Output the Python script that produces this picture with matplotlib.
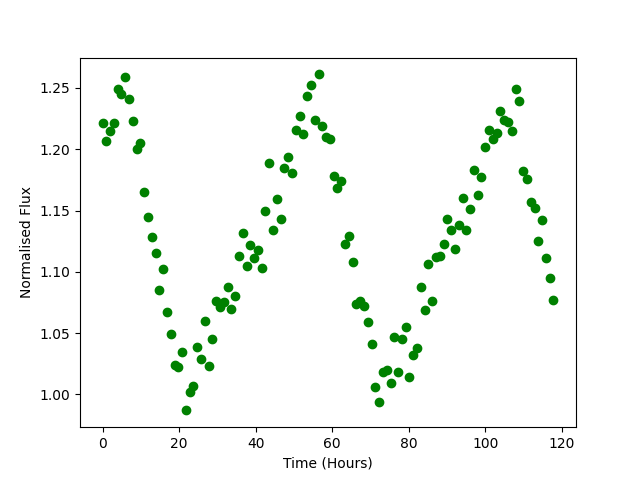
import numpy as np
import matplotlib
matplotlib.use("Agg")
import matplotlib.pyplot as plt

# Normalised flux values, sampled evenly in time
flux = [
    1.221, 1.207, 1.215, 1.221, 1.249, 1.245, 1.259, 1.241, 1.223, 1.200,
    1.205, 1.165, 1.145, 1.128, 1.115, 1.085, 1.102, 1.067, 1.049, 1.024,
    1.022, 1.035, 0.987, 1.002, 1.007, 1.039, 1.029, 1.060, 1.023, 1.045,
    1.076, 1.071, 1.075, 1.088, 1.070, 1.080, 1.113, 1.132, 1.105, 1.122,
    1.111, 1.118, 1.103, 1.150, 1.189, 1.134, 1.159, 1.143, 1.185, 1.194,
    1.181, 1.216, 1.227, 1.212, 1.243, 1.252, 1.224, 1.261, 1.219, 1.210,
    1.208, 1.178, 1.168, 1.174, 1.123, 1.129, 1.108, 1.074, 1.076, 1.072,
    1.059, 1.041, 1.006, 0.994, 1.018, 1.020, 1.009, 1.047, 1.018, 1.045,
    1.055, 1.014, 1.032, 1.038, 1.088, 1.069, 1.106, 1.076, 1.112, 1.113,
    1.123, 1.143, 1.134, 1.119, 1.138, 1.160, 1.134, 1.151, 1.183, 1.163,
    1.177, 1.202, 1.216, 1.208, 1.213, 1.231, 1.224, 1.222, 1.215, 1.249,
    1.239, 1.182, 1.176, 1.157, 1.152, 1.125, 1.142, 1.111, 1.095, 1.077,
]
cadence_hours = 0.99
time_hours = np.arange(len(flux)) * cadence_hours

fig, ax = plt.subplots(figsize=(6.4, 4.8), dpi=100)
ax.plot(time_hours, flux, 'o', color='green')
ax.set_xlabel("Time (Hours)")
ax.set_ylabel("Normalised Flux")
fig.savefig("out.png")
